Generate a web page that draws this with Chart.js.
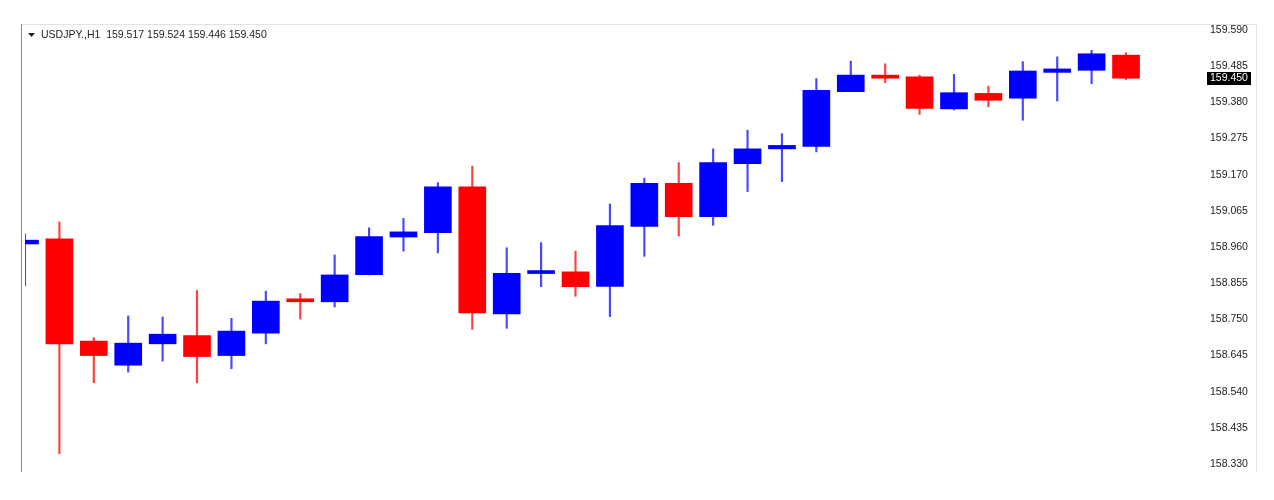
<!DOCTYPE html>
<html>
<head>
<meta charset="utf-8">
<script src="https://cdn.jsdelivr.net/npm/chart.js@4/dist/chart.umd.min.js"></script>
<style>
  html,body{margin:0;padding:0;background:#fff;}
  #wrap{width:1274px;height:500px;position:relative;}
</style>
</head>
<body>
<div id="wrap"><canvas id="c" width="1274" height="500"></canvas></div>
<script>
const symbol = 'USDJPY.,H1';
const opens  = [158.969,158.984,158.687,158.617,158.679,158.703,158.645,158.710,158.806,158.801,158.880,158.989,159.002,159.135,158.766,158.883,158.888,158.846,159.020,159.145,159.048,159.202,159.245,159.252,159.411,159.459,159.454,159.361,159.406,159.392,159.467,159.473,159.517];
const highs  = [158.998,159.033,158.697,158.760,158.757,158.834,158.753,158.832,158.825,158.937,159.016,159.043,159.147,159.195,158.958,158.973,158.948,159.085,159.160,159.205,159.245,159.299,159.289,159.449,159.500,159.492,159.459,159.461,159.427,159.498,159.512,159.531,159.524];
const lows   = [158.847,158.360,158.566,158.597,158.629,158.566,158.607,158.679,158.751,158.786,158.879,158.948,158.943,158.721,158.724,158.845,158.817,158.758,158.933,158.992,159.023,159.121,159.150,159.236,159.411,159.437,159.345,159.358,159.367,159.328,159.384,159.434,159.446];
const closes = [158.980,158.679,158.645,158.681,158.707,158.642,158.716,158.803,158.801,158.879,158.990,159.004,159.135,158.769,158.884,158.888,158.845,159.022,159.145,159.048,159.205,159.245,159.255,159.415,159.459,159.450,159.362,159.408,159.386,159.471,159.477,159.521,159.450];
const priceTicks = [159.590,159.485,159.380,159.275,159.170,159.065,158.960,158.855,158.750,158.645,158.540,158.435,158.330];

const BULL = '#0000ff', BEAR = '#ff0000';
const col = opens.map((o,i)=> closes[i] >= o ? BULL : BEAR);
const wickCol = opens.map((o,i)=> closes[i] >= o ? 'rgba(40,40,255,0.85)' : 'rgba(255,30,30,0.85)');

const last = closes.length - 1;

// frame, header text and current price marker
const deco = {
  id: 'deco',
  beforeDraw(chart){
    const c = chart.ctx;
    c.save();
    c.fillStyle = '#fff'; c.fillRect(0,0,chart.width,chart.height);
    c.strokeStyle = '#e2e2e2'; c.lineWidth = 1;
    c.beginPath(); c.moveTo(21,24.5); c.lineTo(1256,24.5); c.stroke();
    c.strokeStyle = '#dde6ee';
    c.beginPath(); c.moveTo(1256.5,24); c.lineTo(1256.5,472); c.stroke();
    c.strokeStyle = '#8a8a8a';
    c.beginPath(); c.moveTo(21.5,24); c.lineTo(21.5,472); c.stroke();
    c.restore();
  },
  afterDraw(chart){
    const c = chart.ctx, y = chart.scales.y;
    c.save();
    // header
    c.fillStyle = '#222';
    c.beginPath(); c.moveTo(28,33); c.lineTo(35,33); c.lineTo(31.5,37); c.closePath(); c.fill();
    c.font = '10.5px "Liberation Sans", Arial, sans-serif';
    c.textBaseline = 'middle';
    const txt = symbol + '  ' + [opens[last],highs[last],lows[last],closes[last]].map(v=>v.toFixed(3)).join(' ');
    c.fillText(txt, 41, 35.5);
    // last price box
    const py = Math.round(y.getPixelForValue(closes[last]));
    c.fillStyle = '#000';
    c.fillRect(1207, py-6, 44, 13);
    c.fillStyle = '#fff';
    c.fillText(closes[last].toFixed(3), 1210, py+0.5);
    c.restore();
  }
};

new Chart(document.getElementById('c'), {
  type: 'bar',
  data: {
    datasets: [
      { label:'body', data: opens.map((o,i)=>({x:i, y:[o, closes[i]]})), backgroundColor: col, borderWidth:0, barThickness:27, minBarLength:3, grouped:false },
      { label:'wick', data: opens.map((o,i)=>({x:i, y:[lows[i], highs[i]]})), backgroundColor: wickCol, borderWidth:0, barThickness:1.5, grouped:false }
    ]
  },
  options: {
    responsive: false,
    animation: false,
    layout: { padding: { left:25, top:26, right:0, bottom:29 } },
    plugins: { legend:{display:false}, tooltip:{enabled:false} },
    scales: {
      x: { type:'linear', offset:false, min:0, max:34.15, display:false, grid:{display:false} },
      y: {
        position:'right',
        min: 158.3099, max: 159.6016,
        grid:{ display:false, drawTicks:false },
        border:{ display:false },
        afterBuildTicks(s){ s.ticks = priceTicks.map(v=>({value:v})); },
        afterFit(s){ s.width = 74; },
        ticks:{ autoSkip:false, padding:10, color:'#222', font:{ family:'"Liberation Sans", Arial, sans-serif', size:10.5 }, callback:v=>Number(v).toFixed(3) }
      }
    }
  },
  plugins: [deco]
});
</script>
</body>
</html>
